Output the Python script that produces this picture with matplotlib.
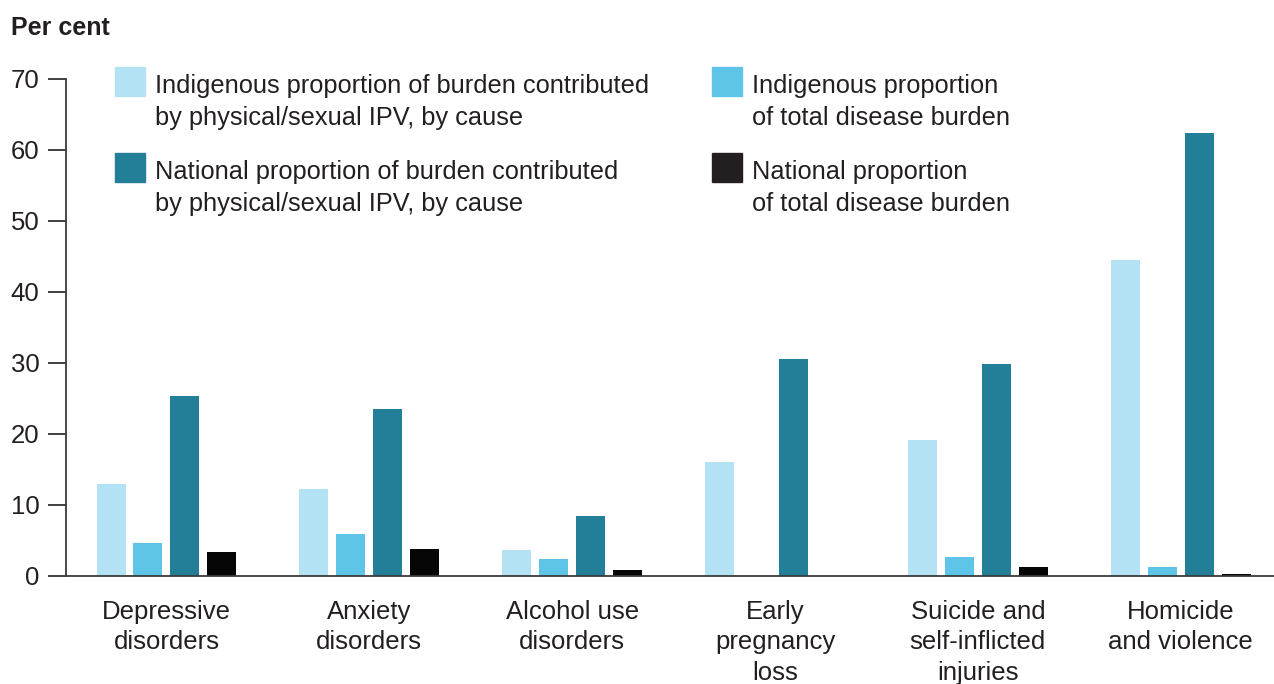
import matplotlib
matplotlib.use("Agg")
import matplotlib.pyplot as plt
from matplotlib.patches import Rectangle
import numpy as np

# Causes and the four series (per cent)
categories = [
    "Depressive\ndisorders",
    "Anxiety\ndisorders",
    "Alcohol use\ndisorders",
    "Early\npregnancy\nloss",
    "Suicide and\nself-inflicted\ninjuries",
    "Homicide\nand violence",
]
indig_ipv = [13.0, 12.2, 3.7, 16.1, 19.2, 44.5]
indig_total = [4.7, 5.9, 2.4, 0.0, 2.7, 1.3]
national_ipv = [25.4, 23.5, 8.4, 30.6, 29.9, 62.4]
national_total = [3.3, 3.8, 0.8, 0.0, 1.3, 0.3]

series = [
    ("Indigenous proportion of burden contributed\nby physical/sexual IPV, by cause", indig_ipv, "#B3E2F4", "#B3E2F4"),
    ("Indigenous proportion\nof total disease burden", indig_total, "#5EC5E8", "#5EC5E8"),
    ("National proportion of burden contributed\nby physical/sexual IPV, by cause", national_ipv, "#237F98", "#237F98"),
    ("National proportion\nof total disease burden", national_total, "#050505", "#231F20"),
]

TEXT = "#231F20"
plt.rcParams["font.family"] = ["Liberation Sans", "DejaVu Sans"]

fig = plt.figure(figsize=(12.74, 6.84), dpi=100)
ax = fig.add_axes([0.0518, 0.158, 0.9482, 0.7267])

x = np.arange(len(categories))
pitch = 0.182
width = 0.143
for i, (label, vals, color, _) in enumerate(series):
    ax.bar(x + (i - 1.5) * pitch, vals, width=width, color=color, label=label, zorder=2)

ax.set_xlim(-0.495, 5.46)
ax.set_ylim(0, 70)
ax.set_yticks(range(0, 71, 10))
ax.set_xticks(x)
ax.set_xticklabels(categories, fontsize=18.5, color=TEXT, linespacing=1.36, va="top")
ax.tick_params(axis="x", length=0, pad=17)
ax.tick_params(axis="y", length=13, width=1.2, colors=TEXT, labelsize=18.5, pad=6)
for side in ("top", "right"):
    ax.spines[side].set_visible(False)
for side in ("left", "bottom"):
    ax.spines[side].set_color("#3a3a3a")
    ax.spines[side].set_linewidth(1.3)

fig.text(11 / 1274, 1 - 28 / 684, "Per cent", fontsize=18, fontweight="bold",
         color=TEXT, va="center", ha="left")

# Legend drawn as swatches and text in figure coordinates
W, H = 1274, 684
entries = [
    (115, 67, series[0]),
    (712, 67, series[1]),
    (115, 153, series[2]),
    (712, 153, series[3]),
]
for px, py, (label, _, _, swatch) in entries:
    fig.patches.append(Rectangle((px / W, 1 - (py + 29) / H), 30 / W, 29 / H,
                                 transform=fig.transFigure, color=swatch))
    fig.text((px + 40) / W, 1 - (py + 35) / H, label, fontsize=18.3, color=TEXT,
             ha="left", va="center", linespacing=1.37)

fig.savefig("out.png", dpi=100)
